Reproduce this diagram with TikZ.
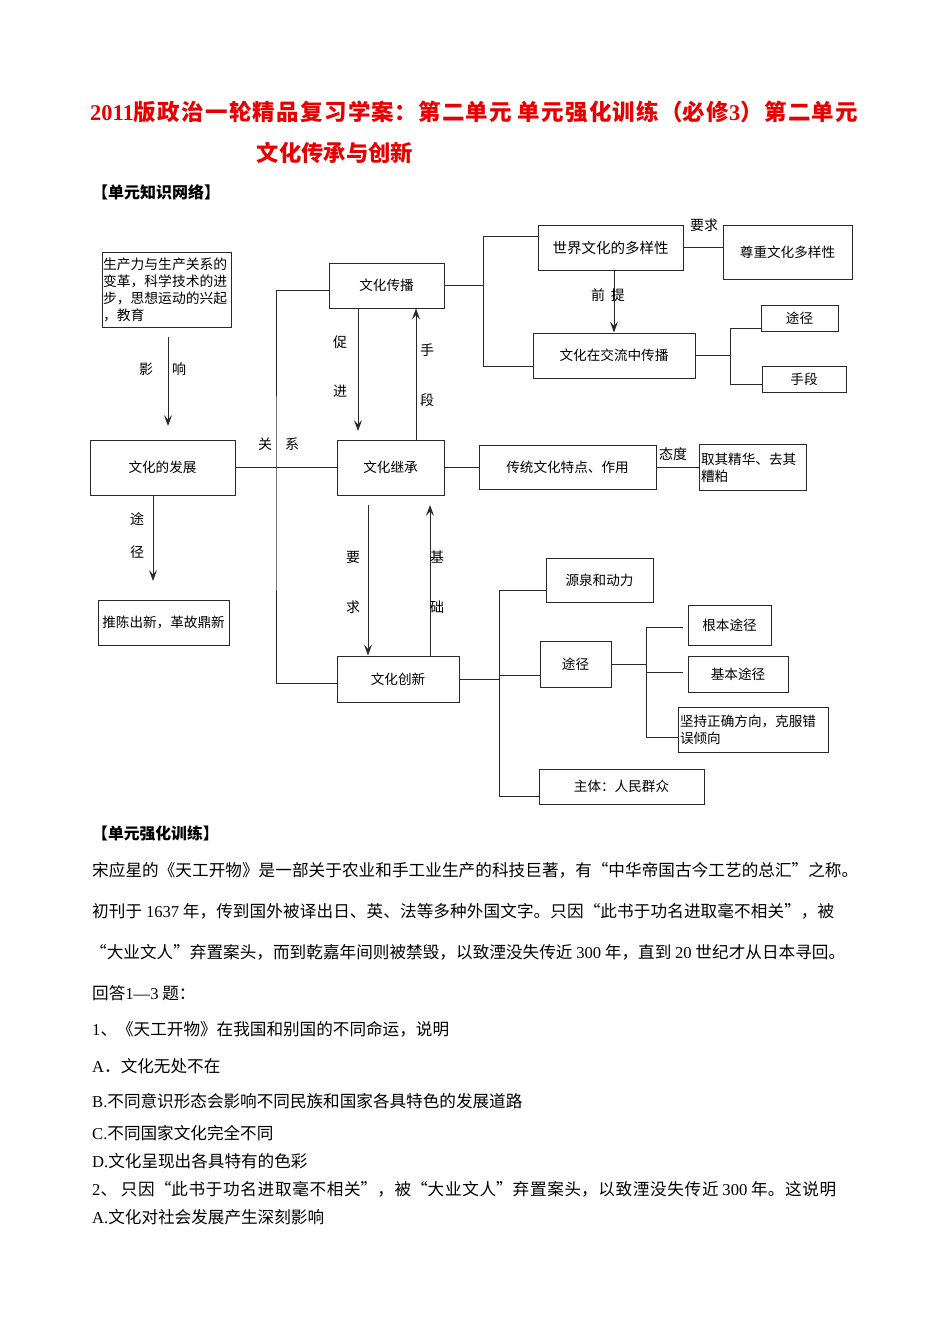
\documentclass[tikz,border=0pt]{standalone}
\usepackage{fontspec}
\setmainfont{Noto Sans CJK SC}
\newfontfamily\latf{Liberation Serif}
\newfontfamily\qf[RawFeature=+fwid]{Noto Sans CJK SC}
\usetikzlibrary{arrows.meta,calc}
\definecolor{titlered}{RGB}{232,0,0}
\definecolor{ln}{RGB}{40,40,40}
\XeTeXlinebreaklocale "zh"
\XeTeXlinebreakskip=0pt plus 1pt
\newcommand{\myLQ}{{\qf “}}
\newcommand{\myRQ}{{\qf ”}}
\newcommand{\jline}[2]{\parbox{#1}{\tolerance=10000\hbadness=10000\parfillskip=0pt\XeTeXlinebreakskip=0pt plus 10pt\noindent #2\par}}
\begin{document}
\begin{tikzpicture}[x=1pt,y=-1pt,
  wh/.style 2 args={minimum width=#1pt, minimum height=#2pt},
  box/.style={draw=ln, line width=1pt, inner sep=2pt, font=\fontsize{13.6}{16}\selectfont},
  lab/.style={inner sep=0pt, font=\fontsize{14}{16}\selectfont},
  conn/.style={draw=ln, line width=1pt},
  arr/.style={conn, -{Stealth[length=11pt,width=8pt,inset=4.5pt]}},
  body/.style={anchor=west, inner sep=0pt, font=\fontsize{16.6}{20}\selectfont}]
\useasboundingbox[fill=white] (0,0) rectangle (950,1344);

% title
\node[anchor=west, inner sep=0pt, text=titlered, font=\fontsize{22.5}{26}\selectfont\bfseries] (t1) at (90,112)
  {\jline{768pt}{{\latf\bfseries 2011}版政治一轮精品复习学案：第二单元 单元强化训练（必修{\latf\bfseries 3}）第二单元}};
\node[inner sep=0pt, text=titlered, font=\fontsize{22.3}{26}\selectfont\bfseries] (t2) at (335,153) {文化传承与创新};
\node[anchor=west, inner sep=0pt, font=\fontsize{16}{18}\selectfont\bfseries] (h1) at (92,192) {【单元知识网络】};

% boxes
\node[box, wh={129}{75}, inner sep=1pt, text width=127pt, align=left, font=\fontsize{13.8}{17}\selectfont] (src) at (166.5,289.5)
  {生产力与生产关系的\\变革，科学技术的进\\步，思想运动的兴起\\，教育};
\node[box, wh={115}{45}] (chuanbo) at (386.5,285.5) {文化传播};
\node[box, wh={145}{45}, font=\fontsize{14.5}{16}\selectfont] (shijie) at (610.5,247.5) {世界文化的多样性};
\node[box, wh={129}{54}] (zunzhong) at (787.5,252) {尊重文化多样性};
\node[box, wh={162}{45}] (jiaoliu) at (614,355.5) {文化在交流中传播};
\node[box, wh={77}{26}] (tj1) at (799.5,318) {途径};
\node[box, wh={84}{26}] (shouduan) at (804,379) {手段};
\node[box, wh={145}{55}] (fazhan) at (162.5,467.5) {文化的发展};
\node[box, wh={107}{55}] (jicheng) at (390.5,467.5) {文化继承};
\node[box, wh={177}{44}] (chuantong) at (567.5,467.5) {传统文化特点、作用};
\node[box, wh={107}{46}, text width=103pt, align=left, font=\fontsize{13.6}{17}\selectfont] (quqi) at (752.5,467.5) {取其精华、去其\\糟粕};
\node[box, wh={131}{45}] (tuichen) at (163.5,622.5) {推陈出新，革故鼎新};
\node[box, wh={122}{46}] (chuangxin) at (398,679) {文化创新};
\node[box, wh={107}{44}] (yuanquan) at (599.5,580) {源泉和动力};
\node[box, wh={71}{46}] (tj2) at (575.5,664) {途径};
\node[box, wh={83}{40}] (genben) at (729.5,625) {根本途径};
\node[box, wh={100}{36}] (jiben) at (738,674) {基本途径};
\node[box, wh={150}{45}, text width=146pt, align=left, font=\fontsize{13.6}{17}\selectfont] (jianchi) at (753,729.5) {坚持正确方向，克服错\\误倾向};
\node[box, wh={165}{35}] (zhuti) at (621.5,786.5) {主体：人民群众};

% junction and free-end coordinates
\coordinate (j1t) at (483,236);
\coordinate (j1b) at (483,366);
\coordinate (j2t) at (730,328);
\coordinate (j2b) at (730,384);
\coordinate (g1) at (276,500);
\coordinate (j3t) at (499,590);
\coordinate (j3m) at (499,675);
\coordinate (j3b) at (499,796);
\coordinate (j4t) at (646,627);
\coordinate (j4m) at (646,672);
\coordinate (j4b) at (646,737);
\coordinate (ys) at (168,337);
\coordinate (ye) at (168,426);
\coordinate (cje) at (358,431);
\coordinate (fze) at (153,581);
\coordinate (yqs) at (368,505);
\coordinate (jce) at (430,505);

% connectors top right
\draw[conn] (chuanbo.east) -- (chuanbo.east -| j1t);
\draw[conn] (j1t) -- (j1b);
\draw[conn] (j1t) -- (j1t -| shijie.west);
\draw[conn] (j1b) -- (j1b -| jiaoliu.west);
\draw[conn] (shijie.east) -- (shijie.east -| zunzhong.west);
\draw[arr] ($(shijie.south)+(3.5,0)$) -- ($(shijie.south |- jiaoliu.north)+(3.5,0)$);
\draw[conn] (jiaoliu.east) -- (jiaoliu.east -| j2t);
\draw[conn] (j2t) -- (j2b);
\draw[conn] (j2t) -- (j2t -| tj1.west);
\draw[conn] (j2b) -- (j2b -| shouduan.west);

% middle
\draw[arr] ($(chuanbo.south)+(-28.5,0)$) -- (cje);
\draw[arr] ($(jicheng.north)+(25.5,0)$) -- ($(jicheng.north |- chuanbo.south)+(25.5,0)$);
\draw[conn] ($(chuanbo.west)+(0,4.5)$) -| (g1) |- ($(chuangxin.west)+(0,4)$);
\draw[conn] (fazhan.east) -- (jicheng.west);
\draw[conn] (jicheng.east) -- (chuantong.west);
\draw[conn] (chuantong.east) -- (quqi.west);
\draw[arr] (ys) -- (ye);
\draw[arr] ($(fazhan.south)+(-9.5,0)$) -- (fze);
\draw[arr] (yqs) -- ($(chuangxin.north)+(-30,0)$);
\draw[arr] ($(chuangxin.north)+(32,0)$) -- (jce);

% bottom right
\draw[conn] (chuangxin.east) -- (chuangxin.east -| j3t);
\draw[conn] (j3t) -- (j3b);
\draw[conn] (j3t) -- (j3t -| yuanquan.west);
\draw[conn] (j3m) -- (j3m -| tj2.west);
\draw[conn] (j3b) -- (j3b -| zhuti.west);
\draw[conn] (tj2.east) -- (tj2.east -| j4t);
\draw[conn] (j4t) -- (j4b);
\draw[conn] (j4t) -- ($(j4t -| genben.west)+(-5,0)$);
\draw[conn] (j4m) -- ($(j4m -| jiben.west)+(-5,0)$);
\draw[conn] (j4b) -- (j4b -| jianchi.west);

% labels
\node[lab] (lyq) at (704,225) {要求};
\node[lab] (lqt) at (608,295) {前\hspace{6pt}提};
\node[lab] (lcu) at (340,342) {促};
\node[lab] (ljin) at (340,391) {进};
\node[lab] (lsh) at (427,350) {手};
\node[lab] (ldu) at (427,400) {段};
\node[lab] (lyi) at (146,369) {影};
\node[lab] (lxi) at (179,369) {响};
\node[lab] (lgu) at (265,444) {关};
\node[lab] (lxx) at (292,444) {系};
\node[lab] (ltu) at (137,519) {途};
\node[lab] (ljg) at (137,552) {径};
\node[lab] (lya) at (353,557) {要};
\node[lab] (lqi) at (353,607) {求};
\node[lab] (lji) at (437,557) {基};
\node[lab] (lch) at (437,607) {础};
\node[lab] (ltd) at (673,454) {态度};

% body text
\node[anchor=west, inner sep=0pt, font=\fontsize{15.8}{18}\selectfont\bfseries] (h2) at (92,833) {【单元强化训练】};
\node[body] (p1) at (92,870) {\jline{766pt}{宋应星的《天工开物》是一部关于农业和手工业生产的科技巨著，有\myLQ 中华帝国古今工艺的总汇\myRQ 之称。}};
\node[body] (p2) at (92,911) {\jline{742pt}{初刊于 {\latf 1637} 年，传到国外被译出日、英、法等多种外国文字。只因\myLQ 此书于功名进取毫不相关\myRQ ，被}};
\node[body] (p3) at (90,952) {\jline{755pt}{\myLQ 大业文人\myRQ 弃置案头，而到乾嘉年间则被禁毁，以致湮没失传近 {\latf 300} 年，直到 {\latf 20} 世纪才从日本寻回。}};
\node[body] (p4) at (92,993) {回答{\latf 1—3} 题：};
\node[body] (q1) at (92,1029) {{\latf 1}、《天工开物》在我国和别国的不同命运，说明};
\node[body] (q1a) at (92,1066) {{\latf A}．文化无处不在};
\node[body] (q1b) at (92,1101) {{\latf B.}不同意识形态会影响不同民族和国家各具特色的发展道路};
\node[body] (q1c) at (92,1133) {{\latf C.}不同国家文化完全不同};
\node[body] (q1d) at (92,1161) {{\latf D.}文化呈现出各具特有的色彩};
\node[body] (q2) at (92,1189) {\jline{744pt}{{\latf 2}、 只因\myLQ 此书于功名进取毫不相关\myRQ ，被\myLQ 大业文人\myRQ 弃置案头，以致湮没失传近 {\latf 300} 年。这说明}};
\node[body] (q2a) at (92,1217) {{\latf A.}文化对社会发展产生深刻影响};
\end{tikzpicture}
\end{document}
